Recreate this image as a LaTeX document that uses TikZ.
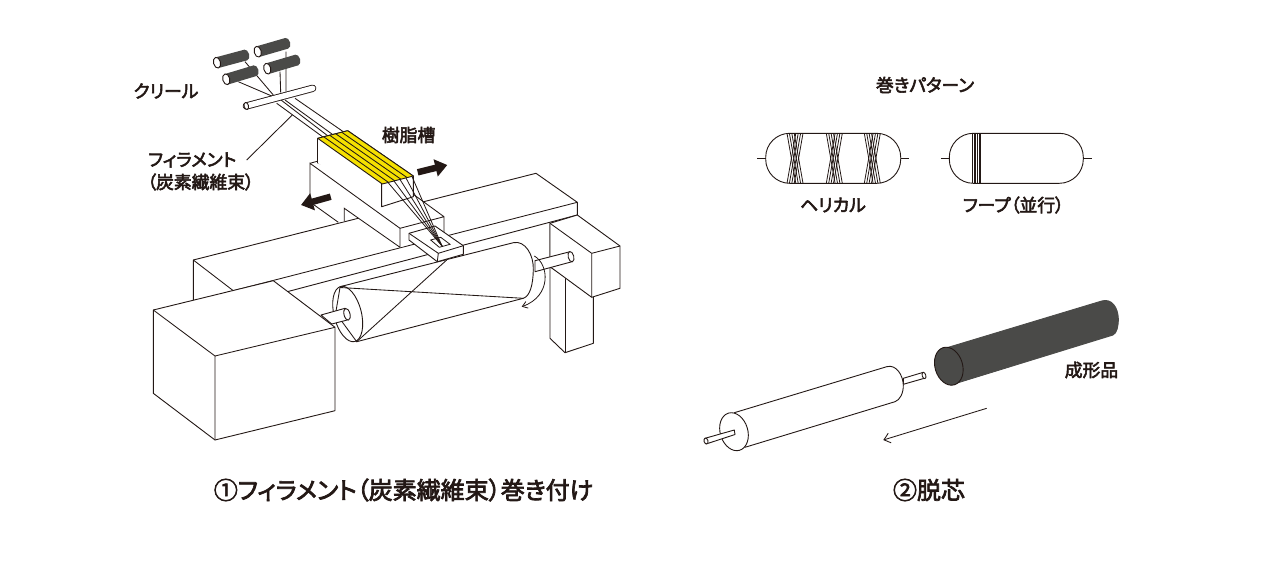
\documentclass[tikz,border=0pt]{standalone}
\usepackage{fontspec}
\usetikzlibrary{positioning,arrows.meta,calc}
\setmainfont{Noto Sans CJK JP}[RawFeature=+palt,FakeBold=3]
\definecolor{ink}{HTML}{231815}
\definecolor{coal}{HTML}{4A4A48}
\definecolor{resin}{HTML}{F5E000}
\tikzset{
  part/.style={draw=ink,line width=.9pt,line join=round,fill=white},
  wire/.style={draw=ink,line width=.85pt},
  fine/.style={draw=ink,line width=.8pt},
  rod/.style={draw=ink,line width=.9pt,double=white,double distance=#1},
  push/.style={draw=ink,line width=6.5pt,-{Triangle[length=12pt,width=17pt]}},
  note/.style={text=ink,font=\fontsize{17.8}{20}\selectfont,inner sep=0pt},
  caption/.style={text=ink,font=\fontsize{24}{27}\selectfont,inner sep=0pt},
}
\begin{document}
\begin{tikzpicture}[x=1pt,y=-1pt]
  \useasboundingbox[fill=white] (0,0) rectangle (1280,560);
  % creel
  \draw[wire] (245,61.7) -- (273.3,95) (238.3,81.7) -- (271.7,96)
    (280,71.7) -- (280.7,92.7) (286,51.7) -- (286,91.7);
  \foreach \ex/\ey/\fx/\fy in {217/62.7/245.7/55,257.7/51.7/286.7/43.3,226.3/79.3/255/70.7,267.3/68.7/296.7/60}{
    \fill[coal,rotate around={15:(\fx,\fy)}] (\fx,\fy) ellipse [x radius=3.5,y radius=5.5];
    \draw[coal,line width=11pt] (\ex,\ey) -- (\fx,\fy);
    \draw[part,rotate around={15:(\ex,\ey)}] (\ex,\ey) ellipse [x radius=3.5,y radius=5.5];
  }
  \draw[wire] (276.7,103.3) -- (323.3,137.3) (285,100) -- (333.3,135)
    (295,98.3) -- (343.3,131.7) (281,100) -- (328,136);
  \draw[rod=5.5pt,line cap=round] (246.3,106) -- (312.7,88.3);
  \draw[part,rotate around={15:(246.3,106)}] (246.3,106) ellipse [x radius=2.2,y radius=3.6];
  % beam
  \draw[part] (193.3,302) -- (193.3,260) -- (536,173.3) -- (577.3,202.3) -- (577.3,215) -- (288,291.5) -- (233.3,290.7) -- cycle;
  \draw[wire] (193.3,260) -- (233.3,290.7) -- (577.3,202.3);
  % right support
  \draw[part] (550,223.3) -- (550,338.3) -- (565,352.7) -- (593.3,343.3) -- (593.3,290) -- (565,276.7) -- (550,266.7);
  \draw[wire] (565,276.7) -- (565,352.7);
  \draw[part] (577.3,215) -- (620,246) -- (620,288.3) -- (591.7,297.3) -- (550,266.7) -- (550,223.3) -- cycle;
  \draw[wire] (550,223.3) -- (591.7,253.3) -- (620,246) (591.7,253.3) -- (591.7,297.3);
  % shaft and mandrel
  \draw[part] (535,260.7) -- (570,251.7) -- (572,261.7) -- (535,271.7) -- cycle;
  \draw[part,rotate around={14.3:(571,256.7)}] (571,256.7) ellipse [x radius=2.8,y radius=5.3];
  \draw[part] (340,286.7) -- (513.3,242.7) .. controls (525,240) and (534,255) .. (533.3,270)
    .. controls (533,285) and (530,296) .. (523.3,298.3) -- (356.7,341.7) -- cycle;
  \draw[part,rotate around={14.3:(347.7,314)}] (347.7,314) ellipse [x radius=13.7,y radius=28.4];
  \draw[wire] (340,287.5) -- (335.7,313) -- (356.7,341.7) -- (446.7,260) (340,287.5) -- (523.3,298.3);
  \draw[part] (321,315) -- (345,308.3) -- (347.3,320) -- (331.7,324) -- cycle;
  \draw[part,rotate around={14.3:(347,314.3)}] (347,314.3) ellipse [x radius=3,y radius=6];
  \draw[-{Straight Barb[length=5pt,width=7pt]},fine] (534.3,256) .. controls (549,264) and (552,296) .. (521.7,306.7);
  % motor
  \draw[part] (153.3,310) -- (273.3,280.7) -- (335,327.3) -- (335,410.7) -- (215,440) -- (153.3,393.3) -- cycle;
  \draw[wire] (153.3,310) -- (215,356) -- (335,327.3) (215,356) -- (215,440);
  % carriage
  \fill[white] (310,163.3) -- (354,151) -- (444,216.7) -- (444,232) -- (400,247.3) -- (344.3,208.3) -- (344.3,221) -- (338.3,222.3) -- (310,202) -- cycle;
  \draw[wire] (338.3,222.3) -- (310,202) -- (310,163.3) -- (400,228.3) -- (400,247.3) -- (344.3,208.3) -- (344.3,221);
  \draw[wire] (310,163.3) -- (354,151) -- (444,216.7) -- (444,232) (400,228.3) -- (444,216.7);
  % resin bath
  \draw[part] (317.7,163) -- (317.7,138.3) -- (347.7,130.7) -- (413.3,176) -- (413.3,196.7) -- (381.7,206.7) -- (381.7,184) -- cycle;
  \fill[white] (317.7,163) -- (381.7,206.7) -- (381.7,184) -- (317.7,138.3) -- cycle;
  \draw[wire] (317.7,163) -- (317.7,138.3) (381.7,184) -- (381.7,206.7);
  \draw[part,fill=resin] (317.7,138.3) -- (347.7,130.7) -- (413.3,176) -- (382.3,184) -- cycle;
  \foreach \i in {1,2,3,4}{
    \draw[wire] ($(317.7,138.3)!\i/5!(347.7,130.7)$) -- ($(382.3,184)!\i/5!(413.3,176)$);
  }
  % eye plate
  \draw[part] (409,233.3) -- (435,226) -- (463.3,245.7) -- (463.3,254.3) -- (437.3,261.7) -- (409,240) -- cycle;
  \draw[wire] (409,233.3) -- (438.3,253.3) -- (463.3,245.7) (438.3,253.3) -- (437.3,261.7);
  \draw[fine] (430.7,240) -- (439.3,247.3) -- (450,244.3) -- (440.7,237.3) -- cycle;
  \foreach \sx/\sy in {388/182.5,394/181,400/179.5,406/178,412/176.5}{
    \draw[fine] (\sx,\sy) -- (442,246);
  }
  \draw[wire] (246.7,160) -- (292.3,115);
  % moving direction
  \draw[push] (417.7,172.3) -- (447.3,165);
  \draw[push] (330.7,196.7) -- (301,205);
  % labels left
  \node[note] (creelname) at (166,91) {クリール};
  \node[note] (bathname) at (408.6,135) {樹脂槽};
  \node[note,anchor=west] (filname) at (148,160) {フィラメント};
  \node[note,anchor=west] (fibername) at (147,182) {（炭素繊維束）};
  \node[caption] (leftcaption) at (403.5,490) {①フィラメント（炭素繊維束）巻き付け};
  % winding patterns
  \node[note] (patname) at (925,85) {巻きパターン};
  \foreach \xa/\xb in {765.7/900.7,949.3/1083.3}{
    \draw[part,rounded corners=24pt] (\xa,133.3) rectangle (\xb,183.3);
    \draw[wire] (\xa-8.4,158.3) -- (\xa,158.3) (\xb,158.3) -- (\xb+8.4,158.3);
  }
  \foreach \c in {795,834.3,872.3}{
    \foreach \i in {0,1,2,3}{
      \draw[fine] (\c-8+\i*2.4,133.3) -- (\c+.8+\i*2.4,183.3);
      \draw[fine] (\c+8-\i*2.4,133.3) -- (\c-.8-\i*2.4,183.3);
    }
  }
  \foreach \i in {0,...,5}{
    \draw[fine] (972.3+\i*1.7,133.3) -- (972.3+\i*1.7,183.3);
  }
  \node[note] (helixname) at (833,205) {ヘリカル};
  \node[note] (hoopname) at (1013.5,205) {フープ（並行）};
  % demoulding
  \draw[part] (903.3,378.3) -- (923.3,372.3) -- (924.3,378.3) -- (903.3,384.3) -- cycle;
  \draw[part,rotate around={16.8:(924,375.5)}] (924,375.5) ellipse [x radius=1.8,y radius=3.3];
  \draw[part] (734.3,412.7) -- (886.7,366.7) .. controls (896,364) and (903,375) .. (903.3,385)
    .. controls (903.5,393) and (900,400) .. (895,401.7) -- (745,447.3) -- cycle;
  \draw[part,rotate around={16.8:(734,431.7)}] (734,431.7) ellipse [x radius=13.8,y radius=19.4];
  \draw[part] (705,438.3) -- (734.3,430) -- (735,434.5) -- (706,444) -- cycle;
  \draw[part,rotate around={16.8:(706,441)}] (706,441) ellipse [x radius=2,y radius=3];
  \draw[part,fill=coal,draw=coal] (948.3,347.3) -- (1101.7,301) .. controls (1112,298) and (1118,308) .. (1118.3,318.3)
    .. controls (1118.5,326) and (1117,333) .. (1113,335) -- (950.7,385) -- cycle;
  \draw[part,fill=coal,rotate around={16.8:(948.8,366.2)}] (948.8,366.2) ellipse [x radius=13.8,y radius=19.4];
  \draw[-{Straight Barb[length=6pt,width=10pt]},wire] (986.7,408.3) -- (883.3,440);
  \node[note] (partname) at (1091.5,370) {成形品};
  \node[caption] (rightcaption) at (929,490) {②脱芯};
\end{tikzpicture}
\end{document}
